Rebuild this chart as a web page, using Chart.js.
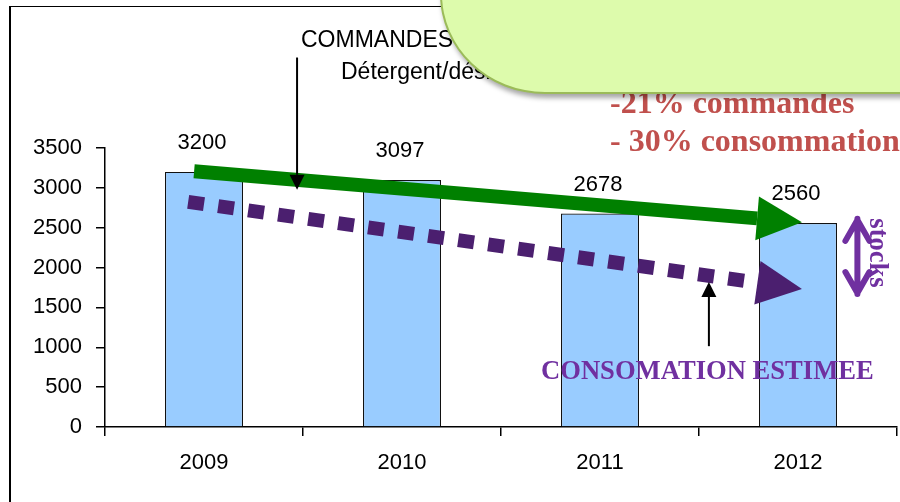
<!DOCTYPE html>
<html>
<head>
<meta charset="utf-8">
<script src="https://cdn.jsdelivr.net/npm/chart.js@4.4.0/dist/chart.umd.min.js"></script>
<style>
    html, body { margin: 0; padding: 0; background: #fff; }
    #cadre { position: relative; width: 900px; height: 502px; overflow: hidden; }
    #bordure { position: absolute; left: 9px; top: 6px; width: 1000px; height: 600px;
               border-left: 2px solid #000; border-top: 1.5px solid #000; }
    #graphique { position: absolute; left: 0; top: 0; }
    #bulle { position: absolute; left: 440px; top: -20px; width: 500px; height: 110px;
             background: #DDFBAC; border: 2px solid #9BBB59;
             border-bottom-left-radius: 105px 100px;
             box-shadow: 2px 4px 5px rgba(0, 0, 0, 0.35); }
</style>
</head>
<body>
<div id="cadre">
    <div id="bordure"></div>
    <canvas id="graphique" width="900" height="502"></canvas>
    <div id="bulle"></div>
</div>
<script>
// ---- DONNEES ----
const annees = ["2009", "2010", "2011", "2012"];
const commandes = [3200, 3097, 2678, 2560];
const graduationsY = [0, 500, 1000, 1500, 2000, 2500, 3000, 3500];

// flèches : [index de catégorie, valeur]
const tendanceCommandes = [[-0.05, 3208], [3.02, 2570]];
const tendanceConso = [[-0.08, 2825], [3.02, 1731]];
const flecheCommandes = [[0.47, 4635], [0.47, 2976]];
const flecheConso = [[2.55, 1014], [2.55, 1819]];
const flecheStocks = [[3.30, 2611], [3.30, 1668]];

const policeSans = "'Liberation Sans', Arial, sans-serif";
const policeSerif = "'Liberation Serif', 'Times New Roman', serif";

function grosseFleche(ctx, a, b, couleur, epaisseur, tirets) {
    const ang = Math.atan2(b.y - a.y, b.x - a.x);
    const tete = 45, demi = 22;
    const bx = b.x - tete * Math.cos(ang);
    const by = b.y - tete * Math.sin(ang);
    ctx.strokeStyle = couleur;
    ctx.lineWidth = epaisseur;
    ctx.lineCap = "butt";
    ctx.setLineDash(tirets || []);
    ctx.beginPath();
    ctx.moveTo(a.x, a.y);
    ctx.lineTo(bx, by);
    ctx.stroke();
    ctx.setLineDash([]);
    ctx.fillStyle = couleur;
    ctx.beginPath();
    ctx.moveTo(b.x, b.y);
    ctx.lineTo(bx + demi * Math.sin(ang), by - demi * Math.cos(ang));
    ctx.lineTo(bx - demi * Math.sin(ang), by + demi * Math.cos(ang));
    ctx.closePath();
    ctx.fill();
}

function petiteFleche(ctx, a, b) {
    const ang = Math.atan2(b.y - a.y, b.x - a.x);
    const tete = 15, demi = 7.5;
    const bx = b.x - tete * Math.cos(ang);
    const by = b.y - tete * Math.sin(ang);
    ctx.strokeStyle = "#000";
    ctx.lineWidth = 2;
    ctx.beginPath();
    ctx.moveTo(a.x, a.y);
    ctx.lineTo(bx, by);
    ctx.stroke();
    ctx.fillStyle = "#000";
    ctx.beginPath();
    ctx.moveTo(b.x, b.y);
    ctx.lineTo(bx + demi * Math.sin(ang), by - demi * Math.cos(ang));
    ctx.lineTo(bx - demi * Math.sin(ang), by + demi * Math.cos(ang));
    ctx.closePath();
    ctx.fill();
}

const annotations = {
    id: "annotations",
    afterDatasetsDraw(chart) {
        const ctx = chart.ctx;
        const sx = chart.scales.x, sy = chart.scales.y;
        const pt = p => ({ x: sx.getPixelForValue(p[0]), y: sy.getPixelForValue(p[1]) });

        ctx.save();

        // valeurs au-dessus des barres
        ctx.font = "22px " + policeSans;
        ctx.fillStyle = "#000";
        ctx.textAlign = "center";
        ctx.textBaseline = "middle";
        chart.getDatasetMeta(0).data.forEach((barre, i) => {
            ctx.fillText(commandes[i], barre.x - 2, barre.y - 29);
        });

        // tendances
        grosseFleche(ctx, pt(tendanceConso[0]), pt(tendanceConso[1]), "#4B1F6F", 14, [16, 14.3]);
        grosseFleche(ctx, pt(tendanceCommandes[0]), pt(tendanceCommandes[1]), "#008000", 14, null);

        // flèches noires
        petiteFleche(ctx, pt(flecheCommandes[0]), pt(flecheCommandes[1]));
        petiteFleche(ctx, pt(flecheConso[0]), pt(flecheConso[1]));

        // double flèche stocks
        const h = pt(flecheStocks[0]), b = pt(flecheStocks[1]);
        ctx.strokeStyle = "#7030A0";
        ctx.lineWidth = 6;
        ctx.lineCap = "round";
        ctx.lineJoin = "round";
        ctx.beginPath();
        ctx.moveTo(h.x, h.y);
        ctx.lineTo(b.x, b.y);
        ctx.moveTo(h.x - 12, h.y + 22);
        ctx.lineTo(h.x, h.y + 1);
        ctx.lineTo(h.x + 12, h.y + 22);
        ctx.moveTo(b.x - 12, b.y - 22);
        ctx.lineTo(b.x, b.y - 1);
        ctx.lineTo(b.x + 12, b.y - 22);
        ctx.stroke();

        // textes
        ctx.textAlign = "left";
        ctx.textBaseline = "alphabetic";
        ctx.fillStyle = "#000";
        ctx.font = "23px " + policeSans;
        ctx.fillText("COMMANDES", 301, 47);
        ctx.fillText("Détergent/désinfectant", 341, 79);

        ctx.fillStyle = "#C0504D";
        ctx.font = "bold 32px " + policeSerif;
        ctx.fillText("-21% commandes", 610, 113);
        ctx.fillText("- 30% consommation", 610, 151);

        ctx.fillStyle = "#7030A0";
        ctx.font = "bold 26.6px " + policeSerif;
        ctx.fillText("CONSOMATION ESTIMEE", 541, 379);

        ctx.translate(877, 253);
        ctx.rotate(Math.PI / 2);
        ctx.textAlign = "center";
        ctx.textBaseline = "middle";
        ctx.fillText("stocks", 0, 0);

        ctx.restore();
    }
};

// ---- GRAPHIQUE ----
const ctx = document.getElementById("graphique").getContext("2d");
new Chart(ctx, {
    type: "bar",
    data: {
        labels: annees,
        datasets: [{
            label: "Commandes",
            data: commandes,
            backgroundColor: "#99CCFF",
            borderColor: "#111",
            borderWidth: 1.2,
            barPercentage: 0.394,
            categoryPercentage: 1
        }]
    },
    options: {
        responsive: false,
        animation: false,
        devicePixelRatio: 1,
        layout: { padding: { top: 148, right: 3, left: 0, bottom: 0 } },
        plugins: { legend: { display: false }, tooltip: { enabled: false } },
        scales: {
            x: {
                grid: { offset: true, drawOnChartArea: false, tickLength: 9, color: "#000", lineWidth: 1.5 },
                border: { display: true, color: "#000", width: 1.5 },
                ticks: { color: "#000", font: { family: policeSans, size: 22 }, padding: 14 },
                afterFit: s => { s.height = 75; }
            },
            y: {
                min: 0,
                max: 3500,
                afterBuildTicks: s => { s.ticks = graduationsY.map(v => ({ value: v })); },
                grid: { drawOnChartArea: false, tickLength: 9, color: "#000", lineWidth: 1.5 },
                border: { display: true, color: "#000", width: 1.5 },
                ticks: {
                    color: "#000",
                    font: { family: policeSans, size: 22 },
                    padding: 14,
                    callback: v => String(v)
                },
                afterFit: s => { s.width = 105; }
            }
        }
    },
    plugins: [annotations]
});
</script>
</body>
</html>
